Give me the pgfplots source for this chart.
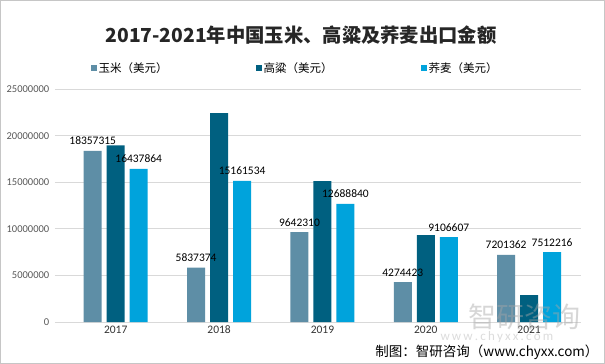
\documentclass[border=0pt]{standalone}
\usepackage{pgfplots}
\pgfplotsset{compat=1.18}
\usepackage{fontspec}
\setmainfont{Carlito}
\newfontfamily\cjk{Noto Sans CJK SC}
\definecolor{corn}{RGB}{94,142,166}
\definecolor{sorghum}{RGB}{0,96,128}
\definecolor{buck}{RGB}{0,163,220}
\definecolor{gridc}{RGB}{217,217,217}
\definecolor{tickc}{RGB}{89,89,89}
\begin{document}
\begin{tikzpicture}[x=1pt,y=1pt]
\draw[gray!45, fill=white] (0.5,0.5) rectangle (604.5,363.5);
\useasboundingbox (0,0) rectangle (605,364);
\node[font=\cjk\bfseries\fontsize{19.3}{21}\selectfont, text=black!85] at (301,329) {2017-2021年中国玉米、高粱及荞麦出口金额};
\begin{axis}[at={(53,45)}, anchor=south west, scale only axis,
  width=526pt, height=233pt,
  ymin=0, ymax=25000000, xmin=-0.59, xmax=4.5,
  scaled y ticks=false,
  ybar=5pt, bar width=18pt,
  axis line style={draw=none},
  ymajorgrids, grid style={gridc, line width=0.8pt},
  major tick length=0pt,
  xtick={0,1,2,3,4}, xticklabels={2017,2018,2019,2020,2021},
  ytick={0,5000000,10000000,15000000,20000000,25000000},
  yticklabels={0,5000000,10000000,15000000,20000000,25000000},
  yticklabel style={font=\fontsize{10.5}{12}\selectfont, text=tickc, xshift=-2pt},
  xticklabel style={font=\fontsize{11.5}{13}\selectfont, text=black!80},
  legend style={at={(0.062,1.09)}, anchor=west, draw=none, fill=none,
    legend columns=3, font=\cjk\fontsize{11.5}{13}\selectfont,
    /tikz/every even column/.append style={column sep=0pt}},
  legend cell align=left,
  legend image code/.code={\fill[#1] (0pt,-3pt) rectangle (6pt,3pt);},
  every node near coord/.append style={font=\fontsize{11.5}{13}\selectfont, text=black, anchor=base, yshift=6pt},
]
\addplot[fill=corn, draw=none, point meta=explicit symbolic, nodes near coords]
  coordinates {(0,18357315)[18357315] (1,5837374)[5837374] (2,9642310)[9642310] (3,4274423)[4274423] (4,7201362)[7201362]};
\addlegendentry{\makebox[155pt][l]{玉米（美元）}}
\addplot[fill=sorghum, draw=none]
  coordinates {(0,18950000) (1,22420000) (2,15130000) (3,9330000) (4,2900000)};
\addlegendentry{\makebox[155pt][l]{高粱（美元）}}
\addplot[fill=buck, draw=none, point meta=explicit symbolic, nodes near coords]
  coordinates {(0,16437864)[16437864] (1,15161534)[15161534] (2,12688840)[12688840] (3,9106607)[9106607] (4,7512216)[7512216]};
\addlegendentry{\makebox[155pt][l]{荞麦（美元）}}
\end{axis}
\begin{scope}[opacity=0.45]
\node[font=\cjk\fontsize{28}{30}\selectfont, text=gray!70, anchor=west] at (465,47) {智研咨询};
\node[font=\fontsize{13}{14}\selectfont, text=gray!60, anchor=west] at (437,27) {w\,w\,w\,.\,c\,h\,y\,x\,x\,.\,c\,o\,m};
\end{scope}
\node[font=\cjk\fontsize{13.5}{15}\selectfont, anchor=base east] at (602,7) {制图：智研咨询（www.chyxx.com）};
\end{tikzpicture}
\end{document}
